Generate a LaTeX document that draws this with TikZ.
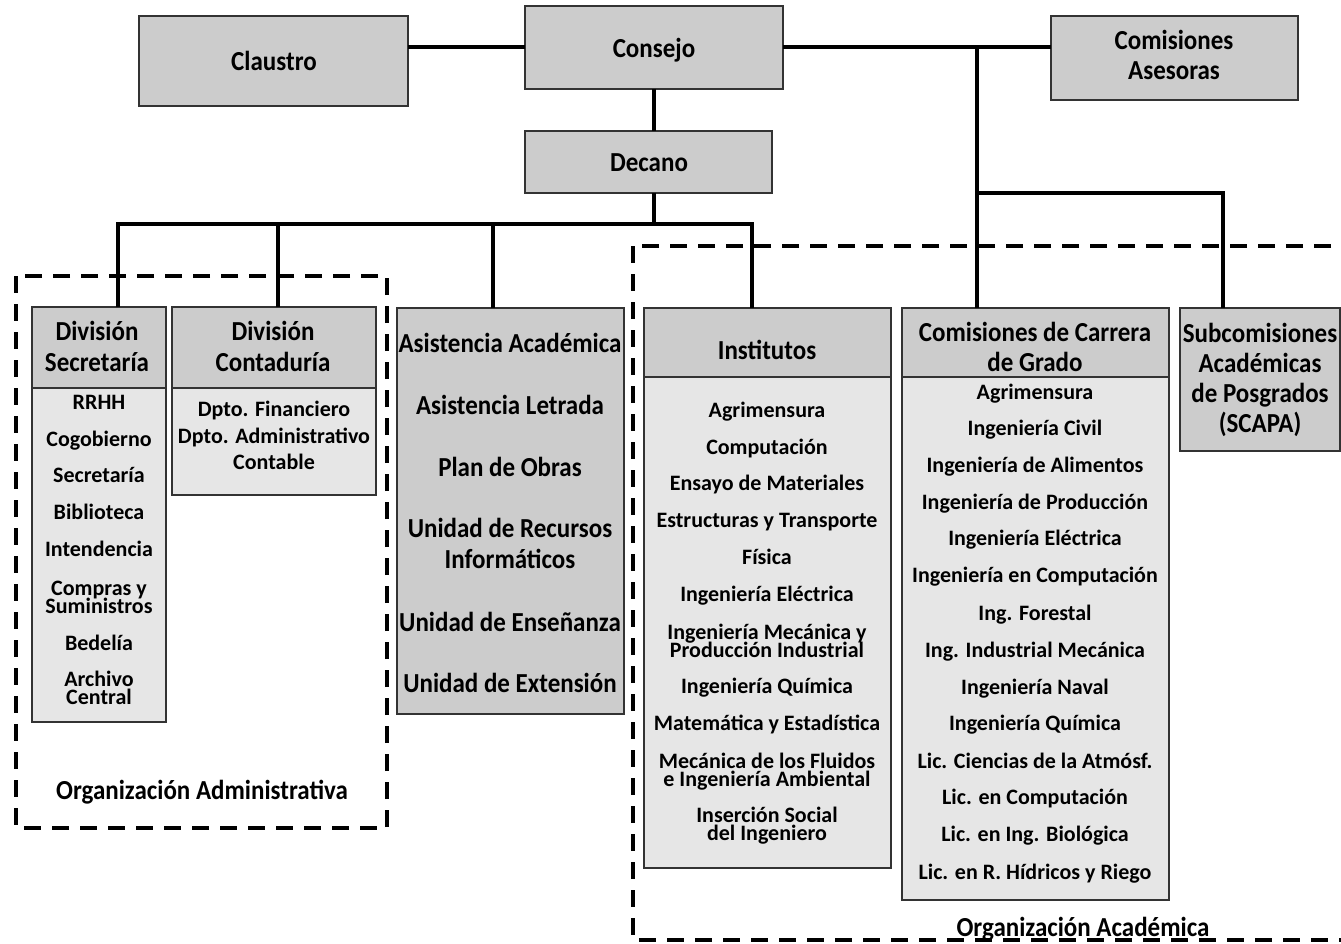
\documentclass[tikz,border=0pt]{standalone}
\usepackage{fontspec}
\setmainfont{Carlito}
\definecolor{hdrgray}{HTML}{CCCCCC}
\definecolor{bodygray}{HTML}{E6E6E6}
\definecolor{edgecol}{HTML}{333333}
\newcommand\fhdr{\fontsize{25}{30}\selectfont\bfseries}
\newcommand\fitm{\fontsize{22}{18}\selectfont\bfseries}
\newcommand\vs[1]{\scalebox{1}[1.1]{#1}}
\newcommand\twoln[2]{\begin{tabular}[t]{@{}c@{}}\smash{#1}\\\smash{#2}\end{tabular}}
\begin{document}
\begin{tikzpicture}[x=1pt,y=-1pt,
  boxbase/.style={draw=edgecol,line width=1.5pt,inner sep=0pt,outer sep=0pt,anchor=north west},
  hdrbox/.style={boxbase,fill=hdrgray},
  bodybox/.style={boxbase,fill=bodygray},
  connline/.style={line width=4pt},
  zone/.style={line width=4pt,dash pattern=on 17pt off 11pt},
  hdrtxt/.style={font=\fhdr,anchor=base,yshift=-9pt,inner sep=0pt},
  itemtxt/.style={font=\fitm,anchor=base,yshift=-7pt,inner sep=0pt}]
\path[use as bounding box] (0,0) rectangle (1341,944);
\clip (0,0) rectangle (1341,944);

% junction coordinates
\coordinate (busL) at (118,224);
\coordinate (bus2) at (278,224);
\coordinate (bus3) at (493,224);
\coordinate (busM) at (654,224);
\coordinate (busR) at (752,224);
\coordinate (rA) at (977,47);
\coordinate (rB) at (977,193);
\coordinate (rC) at (1223,193);

% boxes
\node[hdrbox,minimum width=269pt,minimum height=90pt] (claustro) at (139,16) {};
\node[hdrbox,minimum width=258pt,minimum height=83pt] (consejo) at (525,6) {};
\node[hdrbox,minimum width=247pt,minimum height=62pt] (decano) at (525,131) {};
\node[hdrbox,minimum width=247pt,minimum height=84pt] (asesoras) at (1051,16) {};
\node[hdrbox,minimum width=134pt,minimum height=81pt] (secH) at (32,307) {};
\node[bodybox,minimum width=134pt,minimum height=334pt] (secB) at (32,388) {};
\node[hdrbox,minimum width=204pt,minimum height=81pt] (conH) at (172,307) {};
\node[bodybox,minimum width=204pt,minimum height=107pt] (conB) at (172,388) {};
\node[hdrbox,minimum width=227pt,minimum height=406pt] (asist) at (397,308) {};
\node[hdrbox,minimum width=247pt,minimum height=69pt] (insH) at (644,308) {};
\node[bodybox,minimum width=247pt,minimum height=491pt] (insB) at (644,377) {};
\node[hdrbox,minimum width=267pt,minimum height=69pt] (comH) at (902,308) {};
\node[bodybox,minimum width=267pt,minimum height=523pt] (comB) at (902,377) {};
\node[hdrbox,minimum width=160pt,minimum height=143pt] (sub) at (1180,308) {};

% connectors
\draw[connline] (consejo.west) -- (consejo.west -| claustro.east);
\draw[connline] (consejo.east) -- (consejo.east -| asesoras.west);
\draw[connline] (consejo.south) -- (decano.north -| consejo.south);
\draw[connline] (decano.south -| busM) -- (busM);
\draw[connline] (secH.north -| busL) -- (busL) -- (busR) -- (insH.north -| busR);
\draw[connline] (bus2) -- (conH.north -| bus2);
\draw[connline] (bus3) -- (asist.north -| bus3);
\draw[connline] (rA) -- (comH.north -| rA);
\draw[connline] (rB) -- (rC) -- (sub.north -| rC);

% top labels
\node[hdrtxt] (tclaustro) at (274,62) {\vs{Claustro}};
\node[hdrtxt] (tconsejo) at (654,49) {\vs{Consejo}};
\node[hdrtxt] (tdecano) at (649,163) {\vs{Decano}};
\node[hdrtxt] (tases1) at (1174,41) {\vs{Comisiones}};
\node[hdrtxt] (tases2) at (1174,71) {\vs{Asesoras}};

% headers
\node[hdrtxt] (tsec1) at (97,331) {\vs{División}};
\node[hdrtxt] (tsec2) at (97,362) {\vs{Secretaría}};
\node[hdrtxt] (tcon1) at (273,331) {\vs{División}};
\node[hdrtxt] (tcon2) at (273,362) {\vs{Contaduría}};
\node[hdrtxt] (tins) at (767,350) {\vs{Institutos}};
\node[hdrtxt] (tcom1) at (1035,332) {\vs{Comisiones de Carrera}};
\node[hdrtxt] (tcom2) at (1035,362) {\vs{de Grado}};
\node[hdrtxt] (tsub1) at (1260,333) {\vs{Subcomisiones}};
\node[hdrtxt] (tsub2) at (1260,363) {\vs{Académicas}};
\node[hdrtxt] (tsub3) at (1260,393) {\vs{de Posgrados}};
\node[hdrtxt] (tsub4) at (1260,423) {\vs{(SCAPA)}};

% item lists
\foreach \t/\y in {RRHH/402, Cogobierno/439, Secretaría/475, Biblioteca/512, Intendencia/549, \twoln{Compras y}{Suministros}/588, Bedelía/643, \twoln{Archivo}{Central}/679}
  \node[itemtxt] at (99,\y) {\t};
\foreach \t/\y in {Dpto. Financiero/409, Dpto. Administrativo/436, Contable/462}
  \node[itemtxt] at (274,\y) {\t};
\foreach \t/\y in {Asistencia Académica/343, Asistencia Letrada/405, Plan de Obras/467, Unidad de Recursos/528, Informáticos/559, Unidad de Enseñanza/622, Unidad de Extensión/683}
  \node[hdrtxt] at (510,\y) {\vs{\t}};
\foreach \t/\y in {Agrimensura/410, Computación/447, Ensayo de Materiales/483, Estructuras y Transporte/520, Física/557, Ingeniería Eléctrica/594, \twoln{Ingeniería Mecánica y}{Producción Industrial}/632, Ingeniería Química/686, Matemática y Estadística/723, \twoln{Mecánica de los Fluidos}{e Ingeniería Ambiental}/761, \twoln{Inserción Social}{del Ingeniero}/815}
  \node[itemtxt] at (767,\y) {\t};
\foreach \t/\y in {Agrimensura/392, Ingeniería Civil/428, Ingeniería de Alimentos/465, Ingeniería de Producción/502, Ingeniería Eléctrica/538, Ingeniería en Computación/575, Ing. Forestal/613, Ing. Industrial Mecánica/650, Ingeniería Naval/687, Ingeniería Química/723, Lic. Ciencias de la Atmósf./761, Lic. en Computación/797, Lic. en Ing. Biológica/834, Lic. en R. Hídricos y Riego/872}
  \node[itemtxt] at (1035,\y) {\t};

% dashed zones
\draw[zone] (16,276) rectangle (387,828);
\draw[zone] (633,246) rectangle (1380,940);
\node[hdrtxt] (tadm) at (202,790) {\vs{Organización Administrativa}};
\node[hdrtxt] (tacad) at (1083,927) {\vs{Organización Académica}};
\end{tikzpicture}
\end{document}
